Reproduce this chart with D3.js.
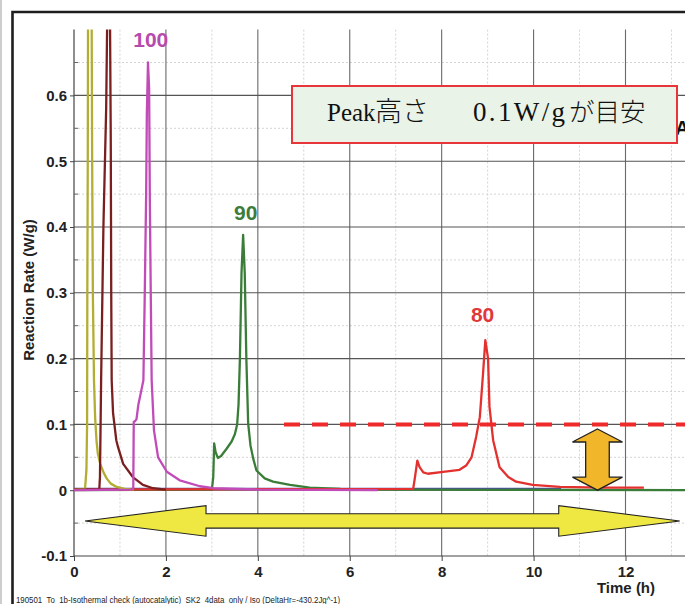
<!DOCTYPE html>
<html>
<head>
<meta charset="utf-8">
<script src="https://cdn.jsdelivr.net/npm/d3@7"></script>
<style>
  html, body { margin: 0; padding: 0; background: #fff; }
  svg { display: block; }
</style>
</head>
<body>
<svg id="chart" width="685" height="604"></svg>
<script>
// Isothermal runs: [time (h), reaction rate (W/g)]
const run110 = [[0,0.001],[0.24,0.002],[0.27,0.03],[0.285,0.1],[0.29,0.3],[0.30,0.51],[0.305,0.7],[0.34,1.1],[0.385,0.7],[0.395,0.5],[0.41,0.3],[0.435,0.167],[0.46,0.11],[0.49,0.075],[0.52,0.055],[0.57,0.04],[0.65,0.026],[0.71,0.018],[0.80,0.01],[0.93,0.005],[1.1,0.002],[1.3,0.001]];
const run105 = [[0,0.001],[0.55,0.001],[0.565,0.02],[0.59,0.167],[0.64,0.4],[0.70,0.58],[0.72,0.7],[0.75,0.95],[0.785,0.7],[0.80,0.53],[0.81,0.3],[0.82,0.167],[0.85,0.117],[0.92,0.076],[0.96,0.065],[1.07,0.04],[1.28,0.02],[1.5,0.008],[1.72,0.003],[2.0,0.001]];
const run100 = [[0,0],[1.25,0.001],[1.29,0.003],[1.30,0.104],[1.33,0.105],[1.36,0.108],[1.40,0.13],[1.46,0.15],[1.51,0.167],[1.54,0.3],[1.57,0.45],[1.585,0.572],[1.61,0.65],[1.635,0.61],[1.65,0.44],[1.67,0.3],[1.69,0.167],[1.74,0.091],[1.83,0.05],[2.02,0.028],[2.30,0.015],[2.74,0.006],[3.03,0.003],[4.0,0.001],[6.6,0]];
const run90 = [[0,0],[3.0,0.001],[3.03,0.02],[3.05,0.071],[3.08,0.058],[3.13,0.049],[3.2,0.052],[3.32,0.063],[3.43,0.074],[3.50,0.085],[3.55,0.1],[3.58,0.13],[3.61,0.2],[3.645,0.33],[3.68,0.388],[3.715,0.33],[3.75,0.2],[3.79,0.101],[3.84,0.068],[3.90,0.048],[3.97,0.03],[4.15,0.018],[4.33,0.013],[4.70,0.008],[5.13,0.004],[5.8,0.002],[7.0,0.001],[14,0]];
const run80 = [[0,0.001],[7.38,0.002],[7.42,0.02],[7.47,0.045],[7.52,0.035],[7.60,0.027],[7.70,0.025],[8.03,0.028],[8.39,0.031],[8.54,0.038],[8.65,0.05],[8.75,0.081],[8.83,0.111],[8.90,0.177],[8.95,0.228],[9.01,0.2],[9.04,0.127],[9.12,0.076],[9.26,0.035],[9.45,0.02],[9.62,0.013],[9.98,0.008],[10.57,0.005],[11.5,0.004],[12.4,0.004]];
const runBase = [[0,0.002],[10.6,0.002]];

const xTicks = [0, 2, 4, 6, 8, 10, 12];
const xTickLabels = ["0", "2", "4", "6", "8", "10", "12"];
const yTicks = [-0.1, 0, 0.1, 0.2, 0.3, 0.4, 0.5, 0.6];
const yTickLabels = ["-0.1", "0", "0.1", "0.2", "0.3", "0.4", "0.5", "0.6"];
const xMinor = [1, 3, 5, 7, 9, 11, 13];
const yMinor = [-0.05, 0.05, 0.15, 0.25, 0.35, 0.45, 0.55, 0.65];

const threshold = 0.1;             // target peak height, W/g
const thresholdSpan = [4.57, 13.4];

const runLabels = [
  { text: "100", t: 1.67, v: 0.674, color: "#b64bae" },
  { text: "90",  t: 3.735, v: 0.41, color: "#3d7c3a" },
  { text: "80",  t: 8.89, v: 0.256, color: "#e0383a" }
];

const runs = [
  { data: runBase, color: "#4b4ba6" },
  { data: run90,   color: "#3a7d38" },
  { data: run80,   color: "#e3312f" },
  { data: run110,  color: "#b3ae33" },
  { data: run105,  color: "#7a1f1f" },
  { data: run100,  color: "#c14cb8" }
];

const svg = d3.select("#chart");
const W = 685, H = 604;
const plotTop = 29.6, plotBottom = 556, plotLeft = 74, plotRight = 685;

const x = d3.scaleLinear().domain([0, 12]).range([74, 625.5]);
const y = d3.scaleLinear().domain([-0.1, 0.7]).range([plotBottom, plotTop]);
const sans = "'Liberation Sans', Arial, sans-serif";

// page frame
svg.append("line").attr("x1", 1).attr("x2", 1).attr("y1", 0).attr("y2", H)
  .attr("stroke", "#bdbdbd").attr("stroke-width", 1.5);
svg.append("path").attr("d", `M12.5,${H} V12 H${W}`)
  .attr("fill", "none").attr("stroke", "#1e1e1e").attr("stroke-width", 2.6);

// grid
const grid = svg.append("g");
grid.selectAll(".xminor").data(xMinor).join("line")
  .attr("x1", d => x(d)).attr("x2", d => x(d))
  .attr("y1", plotTop).attr("y2", plotBottom)
  .attr("stroke", "#d4d4d4").attr("stroke-dasharray", "2,2");
grid.selectAll(".yminor").data(yMinor).join("line")
  .attr("x1", plotLeft).attr("x2", plotRight)
  .attr("y1", d => y(d)).attr("y2", d => y(d))
  .attr("stroke", "#d4d4d4").attr("stroke-dasharray", "2,2");
grid.selectAll(".xmajor").data(xTicks.filter(d => d > 0)).join("line")
  .attr("x1", d => x(d)).attr("x2", d => x(d))
  .attr("y1", plotTop).attr("y2", plotBottom)
  .attr("stroke", "#6a6a6a").attr("stroke-width", 1.1);
grid.selectAll(".ymajor").data(yTicks.filter(d => d > -0.1)).join("line")
  .attr("x1", plotLeft).attr("x2", plotRight)
  .attr("y1", d => y(d)).attr("y2", d => y(d))
  .attr("stroke", "#555").attr("stroke-width", 1.1);

// axes
const xAxis = svg.append("g").attr("transform", `translate(0,${plotBottom})`)
  .call(d3.axisBottom(x).tickValues(xTicks).tickFormat((d, i) => xTickLabels[i]).tickSize(5).tickPadding(5).tickSizeOuter(0));
xAxis.select(".domain").attr("d", `M${plotLeft},0H${plotRight}`).attr("stroke", "#444").attr("stroke-width", 1.2);
xAxis.selectAll(".tick line").attr("stroke", "#444");
xAxis.selectAll("text").attr("font-family", sans).attr("font-weight", "bold")
  .attr("font-size", 15).attr("fill", "#222");

const yAxis = svg.append("g").attr("transform", `translate(${plotLeft},0)`)
  .call(d3.axisLeft(y).tickValues(yTicks).tickFormat((d, i) => yTickLabels[i]).tickSize(4).tickPadding(3).tickSizeOuter(0));
yAxis.select(".domain").attr("d", `M0,${plotTop}V${plotBottom}`).attr("stroke", "#444").attr("stroke-width", 1.2);
yAxis.selectAll(".tick line").attr("stroke", "#444");
yAxis.selectAll("text").attr("font-family", sans).attr("font-weight", "bold")
  .attr("font-size", 15).attr("fill", "#222");
yAxis.selectAll(".minor").data(yMinor).join("line")
  .attr("x1", 0).attr("x2", 4).attr("y1", d => y(d)).attr("y2", d => y(d))
  .attr("stroke", "#666");

svg.append("text").attr("transform", "translate(34,290) rotate(-90)")
  .attr("text-anchor", "middle").attr("font-family", sans).attr("font-weight", "bold")
  .attr("font-size", 15).attr("fill", "#222").text("Reaction Rate (W/g)");
svg.append("text").attr("x", 626).attr("y", 593)
  .attr("text-anchor", "middle").attr("font-family", sans).attr("font-weight", "bold")
  .attr("font-size", 15).attr("fill", "#222").text("Time (h)");

// curves
svg.append("clipPath").attr("id", "plotClip").append("rect")
  .attr("x", plotLeft).attr("y", plotTop)
  .attr("width", plotRight - plotLeft).attr("height", plotBottom - plotTop);

const line = d3.line().x(d => x(d[0])).y(d => y(d[1]));
const curves = svg.append("g").attr("clip-path", "url(#plotClip)");
curves.selectAll("path.run").data(runs).join("path")
  .attr("class", "run")
  .attr("d", d => line(d.data))
  .attr("fill", "none").attr("stroke", d => d.color)
  .attr("stroke-width", 2.3).attr("stroke-linejoin", "round");

// target level
curves.append("line")
  .attr("x1", x(thresholdSpan[0])).attr("x2", x(thresholdSpan[1]))
  .attr("y1", y(threshold)).attr("y2", y(threshold))
  .attr("stroke", "#ee2a2a").attr("stroke-width", 4).attr("stroke-dasharray", "16,12");

// run labels
svg.selectAll("text.runlabel").data(runLabels).join("text")
  .attr("class", "runlabel")
  .attr("x", d => x(d.t)).attr("y", d => y(d.v))
  .attr("text-anchor", "middle").attr("font-family", sans).attr("font-weight", "bold")
  .attr("font-size", 21).attr("fill", d => d.color).text(d => d.text);

// horizontal double arrow along the time span
(function () {
  const xl = x(0.24), xr = x(13.18), cy = y(-0.0467);
  const head = 121, hh = 15.3, sh = 7.2;
  const p = [
    [xl, cy], [xl + head, cy - hh], [xl + head, cy - sh], [xr - head, cy - sh],
    [xr - head, cy - hh], [xr, cy], [xr - head, cy + hh], [xr - head, cy + sh],
    [xl + head, cy + sh], [xl + head, cy + hh]
  ];
  svg.append("path").attr("d", "M" + p.join("L") + "Z")
    .attr("fill", "#efe843").attr("stroke", "#222").attr("stroke-width", 1.1);
})();

// vertical double arrow from baseline to target level
(function () {
  const cx = x(11.39), yt = y(0.093), yb = y(0);
  const head = 13, hw = 25, sw = 11.8;
  const p = [
    [cx, yt], [cx + hw, yt + head], [cx + sw, yt + head], [cx + sw, yb - head],
    [cx + hw, yb - head], [cx, yb], [cx - hw, yb - head], [cx - sw, yb - head],
    [cx - sw, yt + head], [cx - hw, yt + head]
  ];
  svg.append("path").attr("d", "M" + p.join("L") + "Z")
    .attr("fill", "#f2b62b").attr("stroke", "#222").attr("stroke-width", 1.3);
})();

// note box
svg.append("text").attr("x", 675).attr("y", 135)
  .attr("font-family", sans).attr("font-weight", "bold").attr("font-size", 20)
  .attr("fill", "#111").text("A");
svg.append("rect").attr("x", 292).attr("y", 86).attr("width", 385).attr("height", 57)
  .attr("fill", "#e9f3e8").attr("stroke", "#e8353a").attr("stroke-width", 2);

const serif = "'Liberation Serif', 'Times New Roman', serif";
const cjk = "'Noto Sans CJK JP', 'Noto Sans CJK SC', sans-serif";
const note = svg.append("text").attr("y", 121).attr("fill", "#111");
note.append("tspan").attr("x", 327).attr("font-family", serif).attr("font-size", 25).text("Peak");
note.append("tspan").attr("x", 375).attr("font-family", cjk).attr("font-size", 27)
  .attr("font-weight", 300).text("高さ");
note.append("tspan").attr("x", 473).attr("font-family", serif).attr("font-size", 27)
  .attr("textLength", 92).attr("lengthAdjust", "spacing").text("0.1W/g");
note.append("tspan").attr("x", 569).attr("font-family", cjk).attr("font-size", 25.5)
  .attr("font-weight", 300).text("が目安");

// file caption
svg.append("text").attr("x", 16).attr("y", 603)
  .attr("font-family", sans).attr("font-size", 8.5).attr("fill", "#222")
  .attr("textLength", 324).attr("lengthAdjust", "spacingAndGlyphs")
  .text("190501_To_1b-Isothermal check (autocatalytic)_SK2_4data_only / Iso (DeltaHr=-430.2Jg^-1)");
</script>
</body>
</html>
